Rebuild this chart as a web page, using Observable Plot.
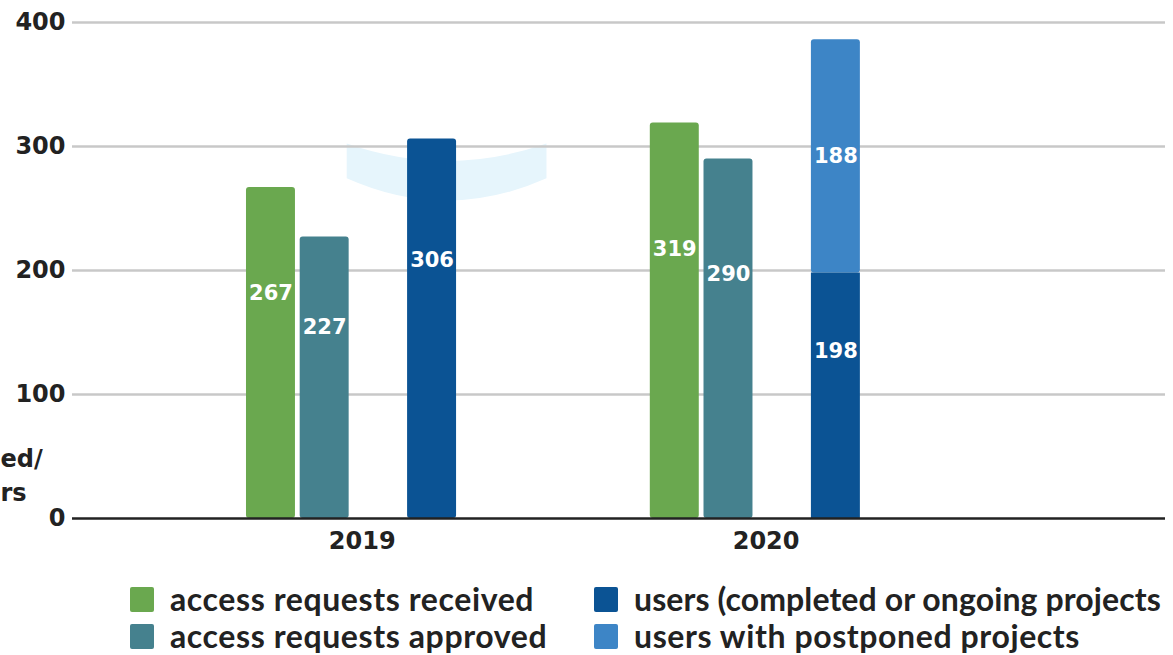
<!DOCTYPE html>
<html>
<head>
<meta charset="utf-8">
<script src="https://cdn.jsdelivr.net/npm/d3@7"></script>
<script src="https://cdn.jsdelivr.net/npm/@observablehq/plot@0.6"></script>
<style>
  html, body { margin: 0; padding: 0; background: #fff; }
  body { width: 1173px; height: 655px; overflow: hidden; position: relative; }
  #chart { position: absolute; left: 0; top: 0; }
  #chart svg [aria-label="y-axis tick label"] text { font-family: "DejaVu Sans", sans-serif; font-weight: bold; font-size: 24px; fill: #222; }
  .legend { position: absolute; left: 0; top: 0; width: 1173px; height: 655px; pointer-events: none;
    font-family: Lato, sans-serif; font-weight: bold; font-size: 32px; line-height: 1; color: #222; white-space: nowrap; }
  .item { position: absolute; display: flex; align-items: center; height: 32px; }
  .sw { width: 24px; height: 25px; border-radius: 2px; margin-right: 16px; flex: none; }
  .tx { letter-spacing: 0.6px; line-height: 1; }
</style>
</head>
<body>
<div id="chart"></div>
<div class="legend" id="legend"></div>
<script>
// ---- data ----
const years = ["2019", "2020"];
const seriesNames = [
  "access requests received",
  "access requests approved",
  "users (completed or ongoing projects",
  "users with postponed projects"
];
const received = [267, 319];
const approved = [227, 290];
const usersActive = [306, 198];
const usersPostponed = [0, 188];
const yTicks = [0, 100, 200, 300, 400];
const colors = ["#6aa84f", "#45818e", "#0b5394", "#3d85c6"];
const yAxisTitle = ["ed/", "rs"];   // visible tail of the cropped axis title

// ---- layout (slot units on a linear x scale) ----
const firstGroup = 3.196, groupStep = 7.52, inset = 0.044;
const slotOf = [0, 1, 3, 3];
const rows = [];
years.forEach((year, i) => {
  const g = firstGroup + i * groupStep;
  const vals = [received[i], approved[i], usersActive[i], usersPostponed[i]];
  const base = [0, 0, 0, usersActive[i]];
  vals.forEach((v, s) => {
    if (v <= 0) return;
    const x1 = g + slotOf[s] + inset, x2 = g + slotOf[s] + 1 - inset;
    const isTop = !(s === 2 && usersPostponed[i] > 0);
    const frac = (s === 3) ? 0.5 : 0.68;
    rows.push({year, series: seriesNames[s], color: colors[s], value: v,
      x1, x2, y1: base[s], y2: base[s] + v, xm: (x1 + x2) / 2,
      ly: base[s] + v * frac, rounded: isTop});
  });
});
const yearLabels = years.map((y, i) => ({year: y, x: firstGroup + i * groupStep + 2.2}));

const plot = Plot.plot({
  width: 1173, height: 570,
  marginLeft: 72, marginRight: 8, marginTop: 22, marginBottom: 52,
  x: {type: "linear", domain: [0, 20.354], axis: null},
  y: {domain: [0, 400], axis: null},
  style: {background: "transparent"},
  marks: [
    Plot.ruleY(yTicks.filter(d => d > 0), {stroke: "#c8c8c8", strokeWidth: 2.5}),
    Plot.axisY(yTicks, {tickSize: 0, tickPadding: 7, label: null}),
    Plot.rectY(rows.filter(d => d.rounded), {x1: "x1", x2: "x2", y1: "y1", y2: "y2", fill: "color", rx: 3}),
    Plot.rectY(rows.filter(d => !d.rounded), {x1: "x1", x2: "x2", y1: "y1", y2: "y2", fill: "color"}),
    Plot.ruleY([0], {stroke: "#222", strokeWidth: 2.5}),
    Plot.text(rows, {x: "xm", y: "ly", text: d => String(d.value), fill: "white",
      fontFamily: "DejaVu Sans", fontWeight: "bold", fontSize: 21}),
    Plot.text(yearLabels, {x: "x", y: 0, dy: 23, text: "year", fill: "#222",
      fontFamily: "DejaVu Sans", fontWeight: "bold", fontSize: 24}),
    Plot.text([yAxisTitle[0]], {frameAnchor: "bottom-left", dx: -72, dy: -52, textAnchor: "start",
      fill: "#222", fontFamily: "DejaVu Sans", fontWeight: "bold", fontSize: 24}),
    Plot.text([yAxisTitle[1]], {frameAnchor: "bottom-left", dx: -72, dy: -18, textAnchor: "start",
      fill: "#222", fontFamily: "DejaVu Sans", fontWeight: "bold", fontSize: 24})
  ]
});

// faint decorative arc behind the 2019 users bar (placed via the scales)
const sx = plot.scale("x"), sy = plot.scale("y");
const px = v => sx.apply(v), py = v => sy.apply(v);
const g0 = firstGroup + slotOf[2];
const aL = px(g0 - 1.08), aR = px(g0 + 2.64), aM = (aL + aR) / 2;
const t0 = py(302), tC = py(274), b0 = py(274), bC = py(238);
const arc = document.createElementNS("http://www.w3.org/2000/svg", "path");
arc.setAttribute("d", `M${aL},${t0} Q${aM},${tC} ${aR},${t0} L${aR},${b0} Q${aM},${bC} ${aL},${b0} Z`);
arc.setAttribute("fill", "#e6f5fc");
const firstG = plot.querySelector("g");
plot.insertBefore(arc, firstG);

document.getElementById("chart").appendChild(plot);

// legend
const legendPos = [[130, 583], [130, 620], [594, 583], [594, 620]];
const legend = document.getElementById("legend");
seriesNames.forEach((name, i) => {
  const it = document.createElement("div");
  it.className = "item";
  it.style.left = legendPos[i][0] + "px";
  it.style.top = legendPos[i][1] + "px";
  const ls = i === 2 ? "letter-spacing:0.1px" : "";
  it.innerHTML = `<span class="sw" style="background:${colors[i]}"></span><span class="tx" style="${ls}">${name}</span>`;
  legend.appendChild(it);
});
</script>
</body>
</html>
